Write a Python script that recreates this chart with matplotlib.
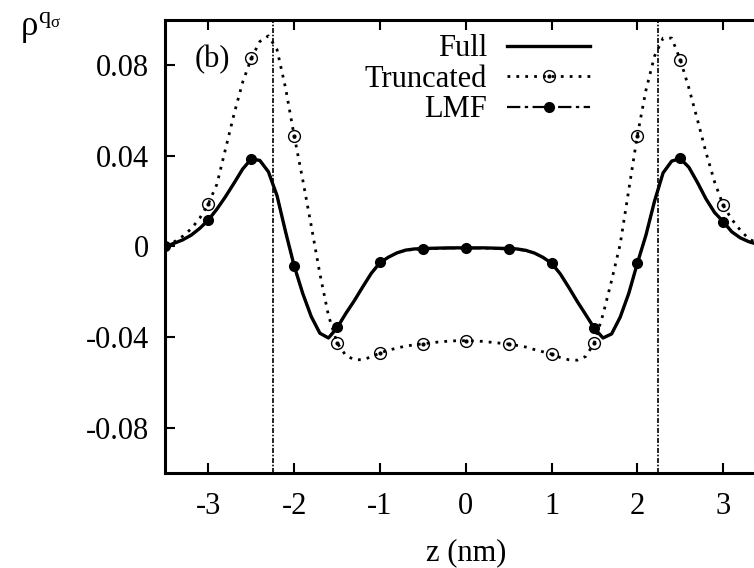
import matplotlib.pyplot as plt
import numpy as np
from matplotlib.legend_handler import HandlerTuple

# z grid (nm), 0.1 nm steps
z = np.linspace(-3.5, 3.5, 71)

full = [0.0000, 0.0014, 0.0029, 0.0050, 0.0080, 0.0117, 0.0165, 0.0220, 0.0280, 0.0342,
        0.0386, 0.0380, 0.0330, 0.0225, 0.0065, -0.0085, -0.0207, -0.0310, -0.0383, -0.0404,
        -0.0360, -0.0297, -0.0240, -0.0178, -0.0118, -0.0072, -0.0047, -0.0028, -0.0016, -0.0011,
        -0.0009, -0.0008, -0.0007, -0.0006, -0.0006, -0.0006, -0.0006, -0.0006, -0.0007, -0.0008,
        -0.0009, -0.0011, -0.0017, -0.0029, -0.0048, -0.0074, -0.0120, -0.0180, -0.0243, -0.0302,
        -0.0362, -0.0404, -0.0386, -0.0312, -0.0207, -0.0074, 0.0050, 0.0200, 0.0325, 0.0377,
        0.0388, 0.0350, 0.0283, 0.0210, 0.0150, 0.0110, 0.0065, 0.0038, 0.0021, 0.0010, 0.0002]

truncated = [0.0005, 0.0020, 0.0045, 0.0078, 0.0125, 0.0188, 0.0275, 0.0430, 0.0585, 0.0725,
             0.0830, 0.0905, 0.0930, 0.0870, 0.0700, 0.0490, 0.0295, 0.0090, -0.0120, -0.0305,
             -0.0425, -0.0480, -0.0500, -0.0500, -0.0487, -0.0470, -0.0458, -0.0448, -0.0440, -0.0434,
             -0.0430, -0.0425, -0.0421, -0.0418, -0.0416, -0.0416, -0.0417, -0.0419, -0.0423, -0.0427,
             -0.0431, -0.0437, -0.0444, -0.0455, -0.0465, -0.0475, -0.0490, -0.0500, -0.0502, -0.0485,
             -0.0424, -0.0300, -0.0150, 0.0010, 0.0250, 0.0490, 0.0690, 0.0840, 0.0920, 0.0920,
             0.0825, 0.0700, 0.0560, 0.0415, 0.0285, 0.0182, 0.0120, 0.0072, 0.0033, 0.0015, 0.0005]

lmf = [0.0000, 0.0014, 0.0029, 0.0050, 0.0080, 0.0117, 0.0165, 0.0220, 0.0280, 0.0342,
       0.0388, 0.0380, 0.0330, 0.0225, 0.0065, -0.0087, -0.0207, -0.0310, -0.0383, -0.0404,
       -0.0354, -0.0297, -0.0240, -0.0178, -0.0118, -0.0070, -0.0047, -0.0028, -0.0018, -0.0014,
       -0.0013, -0.0011, -0.0009, -0.0008, -0.0008, -0.0008, -0.0008, -0.0008, -0.0009, -0.0011,
       -0.0013, -0.0014, -0.0018, -0.0029, -0.0048, -0.0074, -0.0120, -0.0180, -0.0243, -0.0302,
       -0.0362, -0.0404, -0.0386, -0.0312, -0.0207, -0.0074, 0.0050, 0.0200, 0.0325, 0.0377,
       0.0390, 0.0350, 0.0283, 0.0210, 0.0150, 0.0110, 0.0065, 0.0038, 0.0021, 0.0010, 0.0002]

z_wall = [-2.245, 2.245]
xticks = [-3, -2, -1, 0, 1, 2, 3]
yticks = [-0.08, -0.04, 0, 0.04, 0.08]
ytick_labels = ['-0.08', '-0.04', '0', '0.04', '0.08']

plt.rcParams['font.family'] = 'Liberation Serif'
plt.rcParams['mathtext.fontset'] = 'custom'
plt.rcParams['mathtext.rm'] = 'Liberation Serif'
plt.rcParams['mathtext.it'] = 'Liberation Serif'

fig = plt.figure(figsize=(7.54, 5.68), dpi=100)
ax = fig.add_axes([0.2194, 0.1673, 0.7966, 0.7975])

for zw in z_wall:
    ax.axvline(zw, color='k', lw=1.2, ls=(0, (3, 1, 1, 1)), zorder=1)

tr, = ax.plot(z, truncated, color='k', lw=2.0, ls=(0, (1, 2.2)),
              marker='o', ms=8.5, mfc='none', mew=1.0, markevery=slice(5, 66, 5))
trd, = ax.plot(z, truncated, ls='none', color='k', marker='o', ms=2,
               markevery=slice(5, 66, 5))
fu, = ax.plot(z, full, color='k', lw=2.4, solid_joinstyle='round')
lm, = ax.plot(z, lmf, color='k', lw=1.6, ls=(0, (6, 2, 1.5, 2)),
              dash_joinstyle='round', marker='o', ms=7, markevery=5)

ax.set_xlim(-3.5, 3.5)
ax.set_ylim(-0.1, 0.1)
ax.set_xticks(xticks)
ax.set_xticklabels([str(t) for t in xticks])
ax.set_yticks(yticks)
ax.set_yticklabels(ytick_labels)
ax.tick_params(direction='in', length=7, width=1.5, top=True, right=True, labelsize=22)
ax.tick_params(axis='y', pad=12)
ax.tick_params(axis='x', pad=14)
for s in ax.spines.values():
    s.set_linewidth(2.2)

ax.set_xlabel('z (nm)', fontsize=22, labelpad=12)
fig.text(0.027, 0.982, r'$\rho^{q_\sigma}$', fontsize=25, ha='left', va='top')
ax.text(0.078, 0.912, '(b)', transform=ax.transAxes, fontsize=22, ha='center', va='center')

leg = ax.legend([fu, (tr, trd), lm], ['Full', 'Truncated', 'LMF'],
                handler_map={tuple: HandlerTuple(ndivide=1)},
                loc='upper right', bbox_to_anchor=(0.707, 0.968), frameon=False,
                markerfirst=False, fontsize=22, handlelength=2.72, handletextpad=0.65,
                labelspacing=0.045, borderpad=0, borderaxespad=0)

fig.savefig('out.png', dpi=100)
